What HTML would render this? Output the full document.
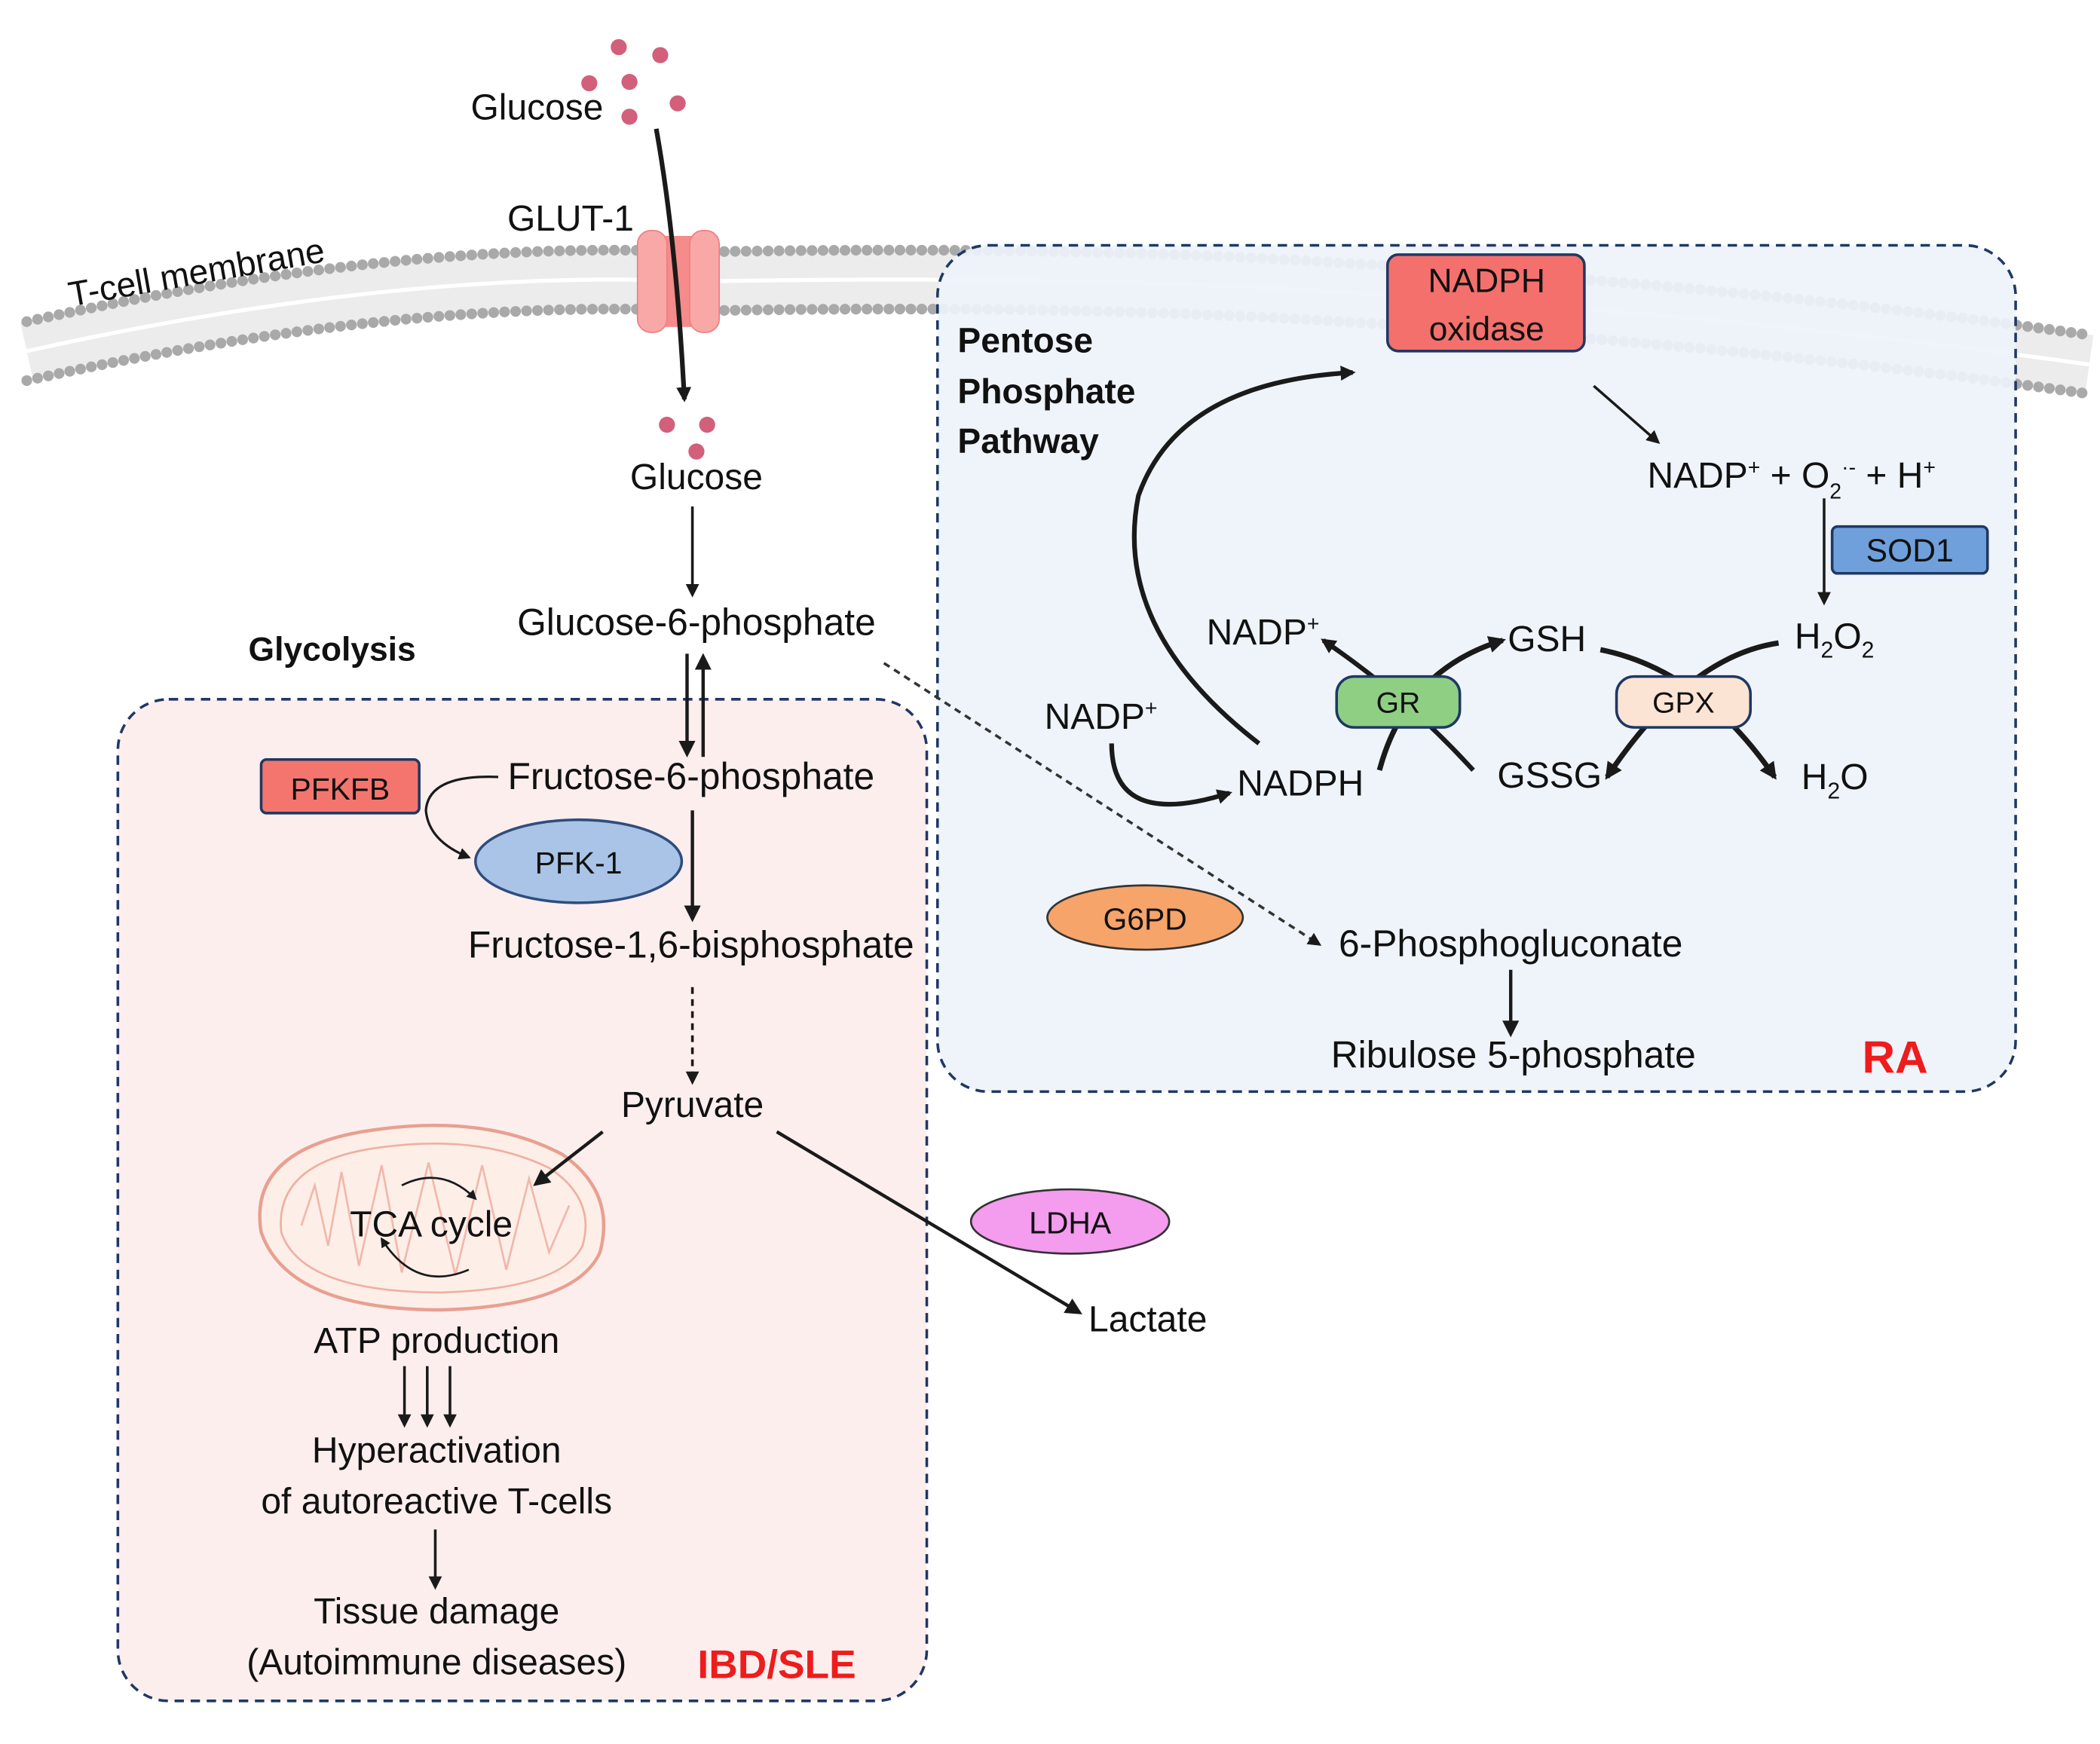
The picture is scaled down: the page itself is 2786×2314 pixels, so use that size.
<!DOCTYPE html>
<html><head><meta charset="utf-8"><style>
html,body{margin:0;padding:0;background:#fff;}
svg{display:block;}
text{font-family:"Liberation Sans",sans-serif;fill:#111;}
</style></head><body>
<svg width="2786" height="2314" viewBox="0 0 1568 1302" xmlns="http://www.w3.org/2000/svg">
<defs>
<marker id="a" viewBox="0 0 10 10" refX="8" refY="5" markerWidth="5" markerHeight="5" orient="auto-start-reverse" markerUnits="strokeWidth"><path d="M0,0 L10,5 L0,10 z" fill="#1a1a1a"/></marker>
<marker id="b" viewBox="0 0 10 10" refX="8" refY="5" markerWidth="3.2" markerHeight="3.2" orient="auto" markerUnits="strokeWidth"><path d="M0,0 L10,5 L0,10 z" fill="#1a1a1a"/></marker>
</defs>
<rect width="1568" height="1302" fill="#fff"/>

<!-- membrane -->
<g fill="none">
<path d="M20,262 Q300,200 520,210 Q800,205 1000,218 Q1300,235 1560,272" stroke="#ececec" stroke-width="44"/>
<path d="M20,262 Q300,200 520,210 Q800,205 1000,218 Q1300,235 1560,272" stroke="#fff" stroke-width="3"/>
<path d="M20,240 Q300,178 520,188 Q800,183 1000,196 Q1300,213 1560,250" stroke="#a9a9a9" stroke-width="8" stroke-linecap="round" stroke-dasharray="0 8.2"/>
<path d="M20,284 Q300,222 520,232 Q800,227 1000,240 Q1300,257 1560,294" stroke="#a9a9a9" stroke-width="8" stroke-linecap="round" stroke-dasharray="0 8.2"/>
</g>
<text x="147" y="212" font-size="26" transform="rotate(-10 147 205)" text-anchor="middle">T-cell membrane</text>

<!-- boxes -->
<rect x="88" y="522" width="604" height="748" rx="38" fill="#fdeeee" stroke="#1f3864" stroke-width="2" stroke-dasharray="7 5"/>
<rect x="700" y="183" width="805" height="632" rx="38" fill="#eef3fa" fill-opacity="0.92" stroke="#1f3864" stroke-width="2" stroke-dasharray="7 5"/>

<!-- glucose dots -->
<g fill="#d2607a">
<circle cx="462" cy="35" r="6"/><circle cx="493" cy="41" r="6"/><circle cx="440" cy="62" r="6"/><circle cx="470" cy="61" r="6"/><circle cx="506" cy="77" r="6"/><circle cx="470" cy="87" r="6"/>
<circle cx="498" cy="317" r="6"/><circle cx="528" cy="317" r="6"/><circle cx="520" cy="337" r="6"/>
</g>
<text x="401" y="89" font-size="27" text-anchor="middle">Glucose</text>
<text x="426" y="172" font-size="27" text-anchor="middle">GLUT-1</text>

<!-- GLUT1 -->
<rect x="487" y="176" width="40" height="68" fill="#f58b8b"/>
<rect x="476" y="172" width="22" height="76" rx="10" fill="#f9a8a8" stroke="#ee8080"/>
<rect x="515" y="172" width="22" height="76" rx="10" fill="#f9a8a8" stroke="#ee8080"/>
<path d="M490,96 Q505,180 511,298" stroke="#1a1a1a" stroke-width="3.5" fill="none" marker-end="url(#b)"/>

<text x="520" y="365" font-size="27" text-anchor="middle">Glucose</text>
<path d="M517,378 L517,444" stroke="#1a1a1a" stroke-width="2" marker-end="url(#a)"/>
<text x="520" y="474" font-size="28" text-anchor="middle">Glucose-6-phosphate</text>
<text x="248" y="493" font-size="25" font-weight="bold" text-anchor="middle">Glycolysis</text>
<path d="M513,488 L513,563" stroke="#1a1a1a" stroke-width="2.5" marker-end="url(#a)"/>
<path d="M525,565 L525,490" stroke="#1a1a1a" stroke-width="2.5" marker-end="url(#a)"/>

<rect x="195" y="567" width="118" height="40" rx="4" fill="#f4756e" stroke="#1f3864" stroke-width="2"/>
<text x="254" y="597" font-size="23" text-anchor="middle">PFKFB</text>
<path d="M372,580 Q320,578 318,605 Q320,628 350,640" stroke="#1a1a1a" stroke-width="1.8" fill="none" marker-end="url(#a)"/>
<ellipse cx="432" cy="643" rx="77" ry="31" fill="#a9c4e6" stroke="#2f4d7d" stroke-width="2"/>
<text x="432" y="652" font-size="23" text-anchor="middle">PFK-1</text>
<text x="516" y="589" font-size="28" text-anchor="middle">Fructose-6-phosphate</text>
<path d="M517,605 L517,686" stroke="#1a1a1a" stroke-width="2.5" marker-end="url(#a)"/>
<text x="516" y="715" font-size="28" text-anchor="middle">Fructose-1,6-bisphosphate</text>
<path d="M517,737 L517,808" stroke="#1a1a1a" stroke-width="2" stroke-dasharray="5 4" marker-end="url(#a)"/>
<text x="517" y="834" font-size="27" text-anchor="middle">Pyruvate</text>

<!-- mitochondrion -->
<path d="M195,920 Q185,860 270,845 Q360,830 420,862 Q460,890 448,935 Q430,975 330,978 Q215,978 195,920 z" fill="#fdeee8" stroke="#e8a090" stroke-width="2.5"/>
<path d="M210,920 Q205,870 275,858 Q355,845 410,872 Q445,895 435,930 Q420,962 330,965 Q225,965 210,920 z" fill="none" stroke="#eeb0a2" stroke-width="1.5"/>
<path d="M225,915 L235,885 L245,930 L255,875 L268,945 L285,870 L300,950 L320,868 L340,952 L360,870 L378,948 L395,880 L410,935 L425,900" fill="none" stroke="#f0b8aa" stroke-width="1.5"/>
<path d="M300,885 Q330,870 355,895" stroke="#1a1a1a" stroke-width="1.5" fill="none" marker-end="url(#a)"/>
<path d="M350,948 Q310,965 285,925" stroke="#1a1a1a" stroke-width="1.5" fill="none" marker-end="url(#a)"/>
<text x="322" y="923" font-size="27" text-anchor="middle">TCA cycle</text>

<path d="M450,845 L400,884" stroke="#1a1a1a" stroke-width="2.5" marker-end="url(#a)"/>
<path d="M580,845 L806,980" stroke="#1a1a1a" stroke-width="2.5" marker-end="url(#a)"/>
<ellipse cx="799" cy="912" rx="74" ry="24" fill="#f49cee" stroke="#333" stroke-width="1.5"/>
<text x="799" y="921" font-size="23" text-anchor="middle">LDHA</text>
<text x="857" y="994" font-size="27" text-anchor="middle">Lactate</text>

<text x="326" y="1010" font-size="27" text-anchor="middle">ATP production</text>
<path d="M302,1020 L302,1064" stroke="#1a1a1a" stroke-width="2" marker-end="url(#a)"/>
<path d="M319,1020 L319,1064" stroke="#1a1a1a" stroke-width="2" marker-end="url(#a)"/>
<path d="M336,1020 L336,1064" stroke="#1a1a1a" stroke-width="2" marker-end="url(#a)"/>
<text x="326" y="1092" font-size="27" text-anchor="middle">Hyperactivation</text>
<text x="326" y="1130" font-size="27" text-anchor="middle">of autoreactive T-cells</text>
<path d="M325,1142 L325,1185" stroke="#1a1a1a" stroke-width="2" marker-end="url(#a)"/>
<text x="326" y="1212" font-size="27" text-anchor="middle">Tissue damage</text>
<text x="326" y="1250" font-size="27" text-anchor="middle">(Autoimmune diseases)</text>
<text x="580" y="1253" font-size="30" font-weight="bold" style="fill:#ee1c1c" text-anchor="middle">IBD/SLE</text>

<!-- PPP -->
<path d="M660,495 L985,705" stroke="#333" stroke-width="2" stroke-dasharray="5 4" marker-end="url(#a)"/>
<ellipse cx="855" cy="685" rx="73" ry="24" fill="#f6a46a" stroke="#333" stroke-width="1.5"/>
<text x="855" y="694" font-size="23" text-anchor="middle">G6PD</text>
<text x="1128" y="714" font-size="28" text-anchor="middle">6-Phosphogluconate</text>
<path d="M1128,724 L1128,772" stroke="#1a1a1a" stroke-width="2.5" marker-end="url(#a)"/>
<text x="1130" y="797" font-size="28" text-anchor="middle">Ribulose 5-phosphate</text>
<text x="1415" y="801" font-size="34" font-weight="bold" style="fill:#ee1c1c" text-anchor="middle">RA</text>

<text x="715" y="263" font-size="26" font-weight="bold">Pentose</text>
<text x="715" y="301" font-size="26" font-weight="bold">Phosphate</text>
<text x="715" y="338" font-size="26" font-weight="bold">Pathway</text>

<rect x="1036" y="190" width="147" height="72" rx="8" fill="#f4706c" stroke="#1f3864" stroke-width="2"/>
<text x="1110" y="218" font-size="25" text-anchor="middle">NADPH</text>
<text x="1110" y="254" font-size="25" text-anchor="middle">oxidase</text>

<path d="M940,555 Q830,470 850,370 Q880,285 1010,278" stroke="#1a1a1a" stroke-width="3.5" fill="none" marker-end="url(#b)"/>
<path d="M1190,288 L1238,330" stroke="#1a1a1a" stroke-width="2" marker-end="url(#a)"/>
<text x="1230" y="364" font-size="27">NADP<tspan font-size="16" dy="-10">+</tspan><tspan dy="10"> + O</tspan><tspan font-size="16" dy="8">2</tspan><tspan font-size="16" dy="-18">·-</tspan><tspan dy="10">  + H</tspan><tspan font-size="16" dy="-10">+</tspan></text>
<rect x="1368" y="393" width="116" height="35" rx="4" fill="#6fa0dc" stroke="#1f3864" stroke-width="2"/>
<text x="1426" y="419" font-size="24" text-anchor="middle">SOD1</text>
<path d="M1362,372 L1362,450" stroke="#1a1a1a" stroke-width="2" marker-end="url(#a)"/>
<text x="1340" y="484" font-size="27">H<tspan font-size="17" dy="7">2</tspan><tspan dy="-7">O</tspan><tspan font-size="17" dy="7">2</tspan></text>

<text x="943" y="481" font-size="27" text-anchor="middle">NADP<tspan font-size="16" dy="-10">+</tspan></text>
<text x="1155" y="486" font-size="27" text-anchor="middle">GSH</text>
<text x="1157" y="588" font-size="27" text-anchor="middle">GSSG</text>
<text x="1345" y="589" font-size="27">H<tspan font-size="17" dy="7">2</tspan><tspan dy="-7">O</tspan></text>
<text x="822" y="544" font-size="27" text-anchor="middle">NADP<tspan font-size="16" dy="-10">+</tspan></text>
<text x="971" y="594" font-size="27" text-anchor="middle">NADPH</text>

<path d="M1030,575 Q1050,500 1122,478" stroke="#1a1a1a" stroke-width="4" fill="none" marker-end="url(#b)"/>
<path d="M1100,575 Q1050,520 988,478" stroke="#1a1a1a" stroke-width="3.5" fill="none" marker-end="url(#b)"/>
<path d="M1195,485 Q1270,500 1325,580" stroke="#1a1a1a" stroke-width="4" fill="none" marker-end="url(#b)"/>
<path d="M1328,480 Q1260,490 1200,580" stroke="#1a1a1a" stroke-width="4" fill="none" marker-end="url(#b)"/>
<rect x="998" y="505" width="92" height="38" rx="13" fill="#8fcf84" stroke="#1f3864" stroke-width="2"/>
<text x="1044" y="532" font-size="22" text-anchor="middle">GR</text>
<rect x="1207" y="505" width="100" height="38" rx="13" fill="#fce4d4" stroke="#1f3864" stroke-width="2"/>
<text x="1257" y="532" font-size="22" text-anchor="middle">GPX</text>
<path d="M830,555 Q830,620 918,592" stroke="#1a1a1a" stroke-width="3.5" fill="none" marker-end="url(#b)"/>
</svg>
</body></html>
